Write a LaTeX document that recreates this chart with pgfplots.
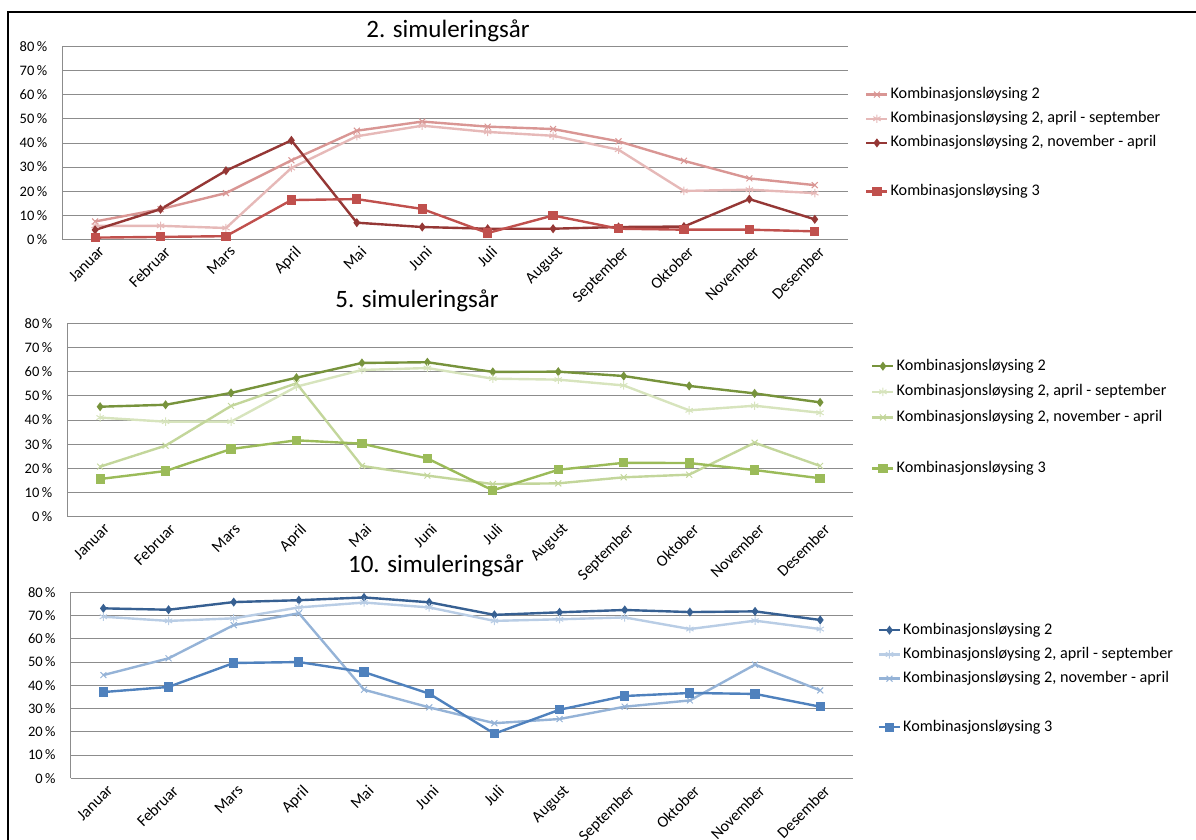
\documentclass[border=0pt]{standalone}
\usepackage{pgfplots}
\pgfplotsset{compat=1.18}
\usepackage{pgfplotstable}
\usepackage{fontspec}
\setmainfont{Carlito}

% year 2 (reds)
\definecolor{rA}{RGB}{217,150,148}
\definecolor{rB}{RGB}{230,185,184}
\definecolor{rC}{RGB}{149,55,53}
\definecolor{rD}{RGB}{192,80,77}
% year 5 (greens)
\definecolor{gA}{RGB}{119,147,60}
\definecolor{gB}{RGB}{215,228,189}
\definecolor{gC}{RGB}{195,214,155}
\definecolor{gD}{RGB}{155,187,89}
% year 10 (blues)
\definecolor{bA}{RGB}{55,96,146}
\definecolor{bB}{RGB}{185,205,229}
\definecolor{bC}{RGB}{149,179,215}
\definecolor{bD}{RGB}{79,129,189}
\definecolor{gridgray}{RGB}{140,140,140}

\pgfplotstableread{
m A B C D
0 7.4 5.6 3.9 0.7
1 12.5 5.6 12.5 1.0
2 19.2 4.7 28.5 1.3
3 32.8 29.6 41.1 16.3
4 45.1 42.8 6.9 16.7
5 48.9 47.2 5.1 12.6
6 46.8 44.6 4.4 2.6
7 45.8 43.0 4.4 9.9
8 40.7 37.2 5.1 4.4
9 32.6 20.1 5.3 4.0
10 25.3 20.6 16.7 4.0
11 22.5 19.2 8.3 3.3
}\yeartwo

\pgfplotstableread{
m A B C D
0 45.5 41.0 20.7 15.6
1 46.3 39.3 29.4 18.9
2 51.2 39.3 45.8 28.0
3 57.5 53.8 55.2 31.6
4 63.6 60.7 21.0 30.2
5 63.9 61.5 17.0 24.1
6 59.9 57.1 13.5 10.9
7 60.0 56.7 13.8 19.4
8 58.2 54.3 16.3 22.3
9 54.1 44.0 17.4 22.2
10 51.0 45.9 30.6 19.3
11 47.3 43.0 21.0 15.9
}\yearfive

\pgfplotstableread{
m A B C D
0 73.1 69.5 44.4 37.1
1 72.5 67.7 51.6 39.3
2 75.8 68.8 65.9 49.6
3 76.6 73.5 71.0 50.0
4 77.8 75.6 38.1 45.7
5 75.7 73.5 30.5 36.4
6 70.3 67.7 23.7 19.2
7 71.4 68.4 25.5 29.5
8 72.4 69.2 30.8 35.4
9 71.5 64.2 33.5 36.7
10 71.8 67.8 48.9 36.3
11 68.1 64.2 37.8 30.8
}\yearten

\pgfplotsset{
  simchart/.style={
    scale only axis, anchor=south west,
    xmin=-0.5, xmax=11.5, ymin=0, ymax=80,
    axis lines*=left, axis line style={-, draw=gridgray, line width=1pt},
    ymajorgrids, grid style={gridgray, line width=0.9pt},
    major tick length=0pt,
    xtick={0,...,11},
    xticklabels={Januar,Februar,Mars,April,Mai,Juni,Juli,August,September,Oktober,November,Desember},
    x tick label style={rotate=45, anchor=north east, inner sep=0pt, xshift=-2pt, yshift=-6pt,
      font=\fontsize{16}{16}\selectfont},
    ytick={0,10,...,80},
    yticklabels={0\,\%,10\,\%,20\,\%,30\,\%,40\,\%,50\,\%,60\,\%,70\,\%,80\,\%},
    y tick label style={font=\fontsize{14.5}{14.5}\selectfont, anchor=east, inner sep=0pt, xshift=-15pt},
    clip=false,
    legend cell align=left,
    legend image code/.code={\draw[mark repeat=2,mark phase=2]
      plot coordinates {(0pt,0pt) (10.5pt,0pt) (21pt,0pt)};},
    legend style={draw=none, fill=none, inner sep=0pt, anchor=north west,
      column sep=2pt, font=\fontsize{16.2}{16.2}\selectfont,
      nodes={inner sep=0pt, text height=11pt, text depth=3pt}},
    every axis plot/.append style={line width=2.4pt},
  },
  sqm/.style={mark=square*, mark size=3.4pt, mark options={solid, fill=#1}},
  dim/.style={mark=diamond*, mark size=2.6pt, mark options={solid, fill=#1}},
  xm/.style={mark=x, mark size=4.2pt, mark options={solid, line width=1pt}},
  stm/.style={mark=asterisk, mark size=4.2pt, mark options={solid, line width=1pt}},
}

\begin{document}
\begin{tikzpicture}
\useasboundingbox (0pt,-840pt) rectangle (1196pt,0pt);
\draw[line width=2pt] (8pt,-845pt) -- (8pt,-12.5pt) -- (1200pt,-12.5pt);

% 2. simuleringsaar
\begin{axis}[simchart, at={(62.4pt,-239.3pt)}, width=785.1pt, height=192.6pt,
  legend style={at={(1.0223,0.789)}, row sep=10.2pt}]
\addplot[color=rA, xm] table[x=m, y=A] {\yeartwo};
\addlegendentry{Kombinasjonsløysing 2}
\addplot[color=rB, stm] table[x=m, y=B] {\yeartwo};
\addlegendentry{Kombinasjonsløysing 2, april - september}
\addplot[color=rC, dim=rC] table[x=m, y=C] {\yeartwo};
\addlegendentry{Kombinasjonsløysing 2, november - april}
\addlegendimage{empty legend}\addlegendentry{}
\addplot[color=rD, sqm=rD] table[x=m, y=D] {\yeartwo};
\addlegendentry{Kombinasjonsløysing 3}
\end{axis}
\node[font=\fontsize{25}{25}\selectfont] at (448pt,-31pt) {2. simuleringsår};

% 5. simuleringsaar
\begin{axis}[simchart, at={(67.4pt,-516.7pt)}, width=785.4pt, height=193.4pt,
  legend style={at={(1.0232,0.8154)}, row sep=11.6pt}]
\addplot[color=gA, dim=gA] table[x=m, y=A] {\yearfive};
\addlegendentry{Kombinasjonsløysing 2}
\addplot[color=gB, stm] table[x=m, y=B] {\yearfive};
\addlegendentry{Kombinasjonsløysing 2, april - september}
\addplot[color=gC, xm] table[x=m, y=C] {\yearfive};
\addlegendentry{Kombinasjonsløysing 2, november - april}
\addlegendimage{empty legend}\addlegendentry{}
\addplot[color=gD, sqm=gD] table[x=m, y=D] {\yearfive};
\addlegendentry{Kombinasjonsløysing 3}
\end{axis}
\node[font=\fontsize{25}{25}\selectfont] at (417pt,-301pt) {5. simuleringsår};

% 10. simuleringsaar
\begin{axis}[simchart, at={(70.8pt,-778.3pt)}, width=782pt, height=186pt,
  legend style={at={(1.0317,0.835)}, row sep=10.25pt}]
\addplot[color=bA, dim=bA] table[x=m, y=A] {\yearten};
\addlegendentry{Kombinasjonsløysing 2}
\addplot[color=bB, stm] table[x=m, y=B] {\yearten};
\addlegendentry{Kombinasjonsløysing 2, april - september}
\addplot[color=bC, xm] table[x=m, y=C] {\yearten};
\addlegendentry{Kombinasjonsløysing 2, november - april}
\addlegendimage{empty legend}\addlegendentry{}
\addplot[color=bD, sqm=bD] table[x=m, y=D] {\yearten};
\addlegendentry{Kombinasjonsløysing 3}
\end{axis}
\node[font=\fontsize{25}{25}\selectfont] at (436pt,-566pt) {10. simuleringsår};
\end{tikzpicture}
\end{document}
